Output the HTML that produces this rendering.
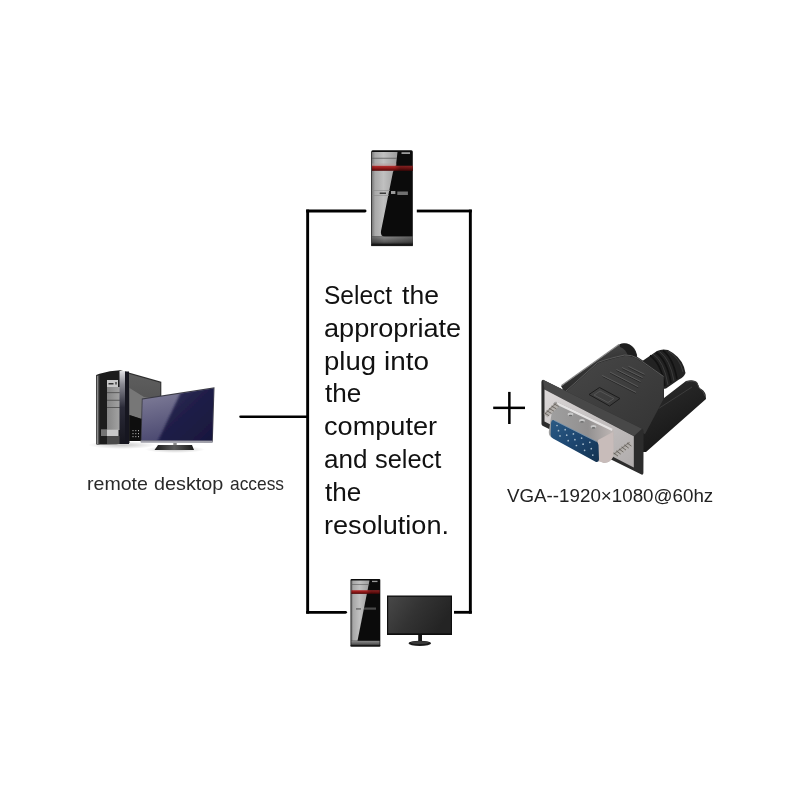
<!DOCTYPE html>
<html><head><meta charset="utf-8">
<style>
html,body{margin:0;padding:0;background:#fff;}
body{width:800px;height:800px;position:relative;overflow:hidden;font-family:"Liberation Sans",sans-serif;}
.ln{position:absolute;background:#000;}
.t{position:absolute;white-space:nowrap;line-height:1;color:#111;}
#main .t{font-size:25px;transform-origin:0 0;}
.cap{font-size:19px;color:#2a2a2a;transform-origin:0 0;}
svg{position:absolute;left:0;top:0;}
</style></head><body>
<!-- box lines -->
<svg width="800" height="800" viewBox="0 0 800 800" style="position:absolute;left:0;top:0">
<g fill="#000">
<rect x="306.2" y="209.6" width="2.9" height="404"/>
<rect x="468.9" y="209.6" width="2.9" height="404"/>
<path d="M306.2,209.6 H365 Q366.5,209.6 366.5,211 Q366.5,212.4 365,212.4 H306.2 Z"/>
<rect x="416.8" y="209.6" width="55" height="2.8"/>
<path d="M306.2,610.9 H345.5 Q347,610.9 347,612.3 Q347,613.7 345.5,613.7 H306.2 Z"/>
<rect x="454" y="610.9" width="17.8" height="2.8"/>
<path d="M240.5,415.6 H309 V417.9 H240.5 Q239.2,417.9 239.2,416.75 Q239.2,415.6 240.5,415.6 Z"/>
<rect x="493.2" y="406.6" width="31.8" height="2.5"/>
<rect x="508.1" y="391.9" width="2.5" height="32.1"/>
</g>
</svg>
<div id="main">
<div class="t" style="left:323.92px;top:283px;transform:scaleX(0.9797);">Select</div>
<div class="t" style="left:401.50px;top:283px;transform:scaleX(1.0618);">the</div>
<div class="t" style="left:323.52px;top:316px;transform:scaleX(1.0848);">appropriate</div>
<div class="t" style="left:323.90px;top:348.5px;transform:scaleX(1.1000);">plug</div>
<div class="t" style="left:384.38px;top:348.5px;transform:scaleX(1.1154);">into</div>
<div class="t" style="left:324.50px;top:381px;transform:scaleX(1.0441);">the</div>
<div class="t" style="left:323.51px;top:414px;transform:scaleX(1.0854);">computer</div>
<div class="t" style="left:323.56px;top:446.5px;transform:scaleX(1.0423);">and</div>
<div class="t" style="left:375.23px;top:446.5px;transform:scaleX(1.0164);">select</div>
<div class="t" style="left:323.52px;top:512.5px;transform:scaleX(1.0839);">resolution.</div>
<div class="t" style="left:324.50px;top:480px;transform:scaleX(1.0441);">the</div>
</div>
<div class="t cap" style="left:87.47px;top:473.5px;transform:scaleX(1.0302);">remote</div>
<div class="t cap" style="left:154.46px;top:473.5px;transform:scaleX(1.0423);">desktop</div>
<div class="t cap" style="left:229.59px;top:473.5px;transform:scaleX(0.9138);">access</div>
<div class="t" style="left:506.5px;top:487.3px;font-size:18px;color:#222;transform:scaleX(1.042);transform-origin:0 0;">VGA--1920×1080@60hz</div>


<!-- top tower -->
<svg width="800" height="800" viewBox="0 0 800 800" style="position:absolute;left:0;top:0">
<defs>
<linearGradient id="tg" x1="0" y1="0" x2="1" y2="0">
<stop offset="0" stop-color="#7a7a7a"/><stop offset="0.12" stop-color="#a8a8a8"/><stop offset="0.45" stop-color="#c0c0c0"/><stop offset="1" stop-color="#9c9c9c"/>
</linearGradient>
<linearGradient id="tr" x1="0" y1="0" x2="0" y2="1">
<stop offset="0" stop-color="#b43030"/><stop offset="0.5" stop-color="#901818"/><stop offset="1" stop-color="#500808"/>
</linearGradient>
<linearGradient id="trdark" x1="0" y1="0" x2="1" y2="0"><stop offset="0" stop-color="#000" stop-opacity="0.15"/><stop offset="0.08" stop-color="#000" stop-opacity="0"/><stop offset="0.55" stop-color="#000" stop-opacity="0"/><stop offset="0.7" stop-color="#000" stop-opacity="0.3"/><stop offset="1" stop-color="#000" stop-opacity="0.25"/></linearGradient>
<linearGradient id="tb" x1="0" y1="0" x2="0" y2="1">
<stop offset="0" stop-color="#8a8a8a"/><stop offset="0.7" stop-color="#5a5a5a"/><stop offset="1" stop-color="#1a1a1a"/>
</linearGradient>
<linearGradient id="tbx" x1="0" y1="0" x2="1" y2="0">
<stop offset="0" stop-color="#000" stop-opacity="0.25"/><stop offset="0.3" stop-color="#000" stop-opacity="0"/><stop offset="1" stop-color="#000" stop-opacity="0.3"/>
</linearGradient>
</defs>
<g id="tower1">
<rect x="371.2" y="150.2" width="41.6" height="95.8" rx="1.5" fill="#0b0b0b"/>
<path d="M372,152 L397.5,152 L396,165 L393,172 L381,231 Q380,236.5 385,236.5 L372,236.5 Z" fill="url(#tg)"/>
<rect x="372" y="157.8" width="25" height="0.8" fill="#5a5a5a"/>
<rect x="372" y="163.5" width="24.5" height="2.3" fill="#b89a9a" opacity="0.5"/>
<rect x="372" y="165.8" width="40.8" height="5" fill="url(#tr)"/>
<rect x="372" y="165.8" width="40.8" height="5" fill="url(#trdark)"/>
<rect x="372" y="236.5" width="40.8" height="8" fill="url(#tb)"/>
<rect x="372" y="236.5" width="40.8" height="8" fill="url(#tbx)"/>
<rect x="371.2" y="244.3" width="41.6" height="1.8" fill="#1a1a1a"/>
<rect x="401.5" y="152.2" width="8.5" height="1.8" fill="#9a9a9a"/>
<rect x="379.7" y="192.5" width="6.3" height="1.5" fill="#3a3a3a"/>
<rect x="391" y="191" width="4.4" height="3" fill="#9a9a9a"/>
<rect x="397.3" y="191.5" width="10.6" height="3.5" fill="#707070"/>
<rect x="372" y="190.4" width="18" height="0.6" fill="#8a8a8a"/>
<rect x="372" y="195.4" width="17" height="0.6" fill="#8a8a8a"/>
</g>
</svg>

<!-- remote desktop -->
<svg width="800" height="800" viewBox="0 0 800 800" style="position:absolute;left:0;top:0">
<defs>
<linearGradient id="rgbay" x1="0" y1="0" x2="1" y2="0">
<stop offset="0" stop-color="#858585"/><stop offset="1" stop-color="#a8a8a8"/>
</linearGradient>
<linearGradient id="rgedge" x1="0" y1="0" x2="0" y2="1">
<stop offset="0" stop-color="#e0e0e4"/><stop offset="0.18" stop-color="#8a8a94"/><stop offset="0.5" stop-color="#2a2a38"/><stop offset="1" stop-color="#16161e"/>
</linearGradient>
<linearGradient id="rgside" x1="0" y1="0" x2="0" y2="1">
<stop offset="0" stop-color="#5e5e5e"/><stop offset="1" stop-color="#4e4e4e"/>
</linearGradient>
<linearGradient id="rgscr" x1="0" y1="0" x2="0.3" y2="1">
<stop offset="0" stop-color="#84829c"/><stop offset="1" stop-color="#4a4870"/>
</linearGradient>
<linearGradient id="rgscr2" x1="0" y1="0" x2="1" y2="1">
<stop offset="0" stop-color="#3a3962"/><stop offset="0.45" stop-color="#201f48"/><stop offset="1" stop-color="#17163c"/>
</linearGradient>
<linearGradient id="rgbase" x1="0" y1="0" x2="1" y2="0">
<stop offset="0" stop-color="#1a1a1a"/><stop offset="0.5" stop-color="#5a5a5a"/><stop offset="1" stop-color="#1a1a1a"/>
</linearGradient>
<filter id="blur08" x="-10%" y="-10%" width="120%" height="120%"><feGaussianBlur stdDeviation="0.8"/></filter>
<radialGradient id="rgshadow" cx="0.5" cy="0.5" r="0.5">
<stop offset="0" stop-color="#000" stop-opacity="0.22"/><stop offset="1" stop-color="#000" stop-opacity="0"/>
</radialGradient>
</defs>
<ellipse cx="122" cy="445" rx="34" ry="4" fill="url(#rgshadow)"/>
<ellipse cx="175" cy="449.5" rx="30" ry="3.5" fill="url(#rgshadow)"/>
<!-- tower side panel -->
<polygon points="127.8,372.3 161.3,381.8 161.3,430 141,441 129,441" fill="#2e2e2e"/>
<polygon points="128.8,373.8 160.3,382.8 160.3,420 141,418.8 129.3,415" fill="url(#rgside)"/>
<polygon points="129.5,388 144,397 161,399 161,420 141,418.8 129.5,415" fill="#777"/>
<polygon points="129.5,415 141,418.8 161,420 161,430 141,441 129.5,441" fill="#0e0e0e"/>
<g fill="#aaa"><rect x="132.5" y="430" width="1" height="1.2"/><rect x="135.3" y="430" width="1" height="1.2"/><rect x="138" y="430" width="1" height="1.2"/><rect x="132.5" y="433" width="1" height="1.2"/><rect x="135.3" y="433" width="1" height="1.2"/><rect x="138" y="433" width="1" height="1.2"/><rect x="132.5" y="436" width="1" height="1.2"/><rect x="135.3" y="436" width="1" height="1.2"/><rect x="138" y="436" width="1" height="1.2"/></g>
<!-- tower front -->
<path d="M96.2,375 L99.5,373.8 Q110,370.5 120,370.2 L128,372.3 L129.5,443 Q112,445 96.5,444.4 Z" fill="#1c1c1c"/>
<rect x="96.3" y="375" width="3.2" height="69.3" fill="#3a3a3a"/>
<rect x="97" y="376" width="1.3" height="68" fill="#8a8a8a"/>
<rect x="107" y="387" width="15" height="43" fill="url(#rgbay)"/>
<rect x="107" y="392.3" width="15" height="0.8" fill="#4a4a4a"/>
<rect x="107" y="399.8" width="15" height="0.8" fill="#4a4a4a"/>
<rect x="107" y="407" width="15" height="0.8" fill="#4a4a4a"/>
<rect x="107" y="380" width="11" height="7" fill="#c8c8c8"/>
<rect x="108.5" y="383" width="5" height="1.5" fill="#333"/>
<rect x="115" y="382" width="2" height="2.5" fill="#666"/>
<rect x="101" y="429.7" width="17.5" height="6.3" fill="#c8c8c8"/>
<rect x="101" y="429.7" width="6" height="6.3" fill="#747474"/>
<rect x="107" y="436" width="15" height="8" fill="#4a4a4a"/>
<rect x="119.5" y="371" width="5.5" height="73" fill="url(#rgedge)"/>
<rect x="125" y="371.5" width="4" height="72.5" fill="#161620"/>
<!-- monitor -->
<polygon points="141.8,398.5 214.5,387.2 212.8,442 140.7,441.6" fill="#3a3a44"/>
<polygon points="142.6,399.6 213.6,388.6 212,440.6 141.6,440.4" fill="url(#rgscr)"/>
<clipPath id="scrclip"><polygon points="142.6,399.6 213.6,388.6 212,440.6 141.6,440.4"/></clipPath><g clip-path="url(#scrclip)"><polygon points="181,392 216,386 216,442 157.5,442" fill="url(#rgscr2)" filter="url(#blur08)"/></g>
<polygon points="140.7,440.5 212.8,440.8 212.6,443 140.8,442.8" fill="#a0a0aa"/>
<rect x="173.3" y="443" width="3.4" height="4" fill="#8a8a8a"/>
<polygon points="158,445 192,445 194,450 154.5,450" fill="url(#rgbase)"/>
</svg>

<!-- VGA adapter -->
<svg width="800" height="800" viewBox="0 0 800 800" style="position:absolute;left:0;top:0">
<defs>
<linearGradient id="vsil" x1="0" y1="0" x2="1" y2="1">
<stop offset="0" stop-color="#dcd8d8"/><stop offset="0.5" stop-color="#c4c0c0"/><stop offset="1" stop-color="#b0acac"/>
</linearGradient>
<linearGradient id="vshell" x1="0" y1="0" x2="1" y2="0">
<stop offset="0" stop-color="#a0a0a0"/><stop offset="0.6" stop-color="#929090"/><stop offset="1" stop-color="#c0b8b6"/>
</linearGradient>
<linearGradient id="vblue" x1="0" y1="0" x2="1" y2="1">
<stop offset="0" stop-color="#2b5a84"/><stop offset="0.5" stop-color="#1d4670"/><stop offset="1" stop-color="#14324f"/>
</linearGradient>
<linearGradient id="vcyl" x1="0" y1="0" x2="0.5" y2="1">
<stop offset="0" stop-color="#2e2e2e"/><stop offset="0.5" stop-color="#222"/><stop offset="1" stop-color="#151515"/>
</linearGradient>
<linearGradient id="vface" x1="0" y1="0" x2="1" y2="1">
<stop offset="0" stop-color="#474747"/><stop offset="1" stop-color="#343434"/>
</linearGradient>
</defs>
<!-- lower right cylinder -->
<path d="M640,431 L664,398 L686,381 Q693,379 697,382 L699.5,388 Q704,390 705.5,394 L706,399 L646,452 L640,452 Z" fill="url(#vcyl)"/>
<path d="M636,423 L692,387" stroke="#3c3c3c" stroke-width="1" fill="none"/>
<path d="M686,382 Q694,380 697,383 L699,388 Q704,391 705,396" stroke="#444" stroke-width="1" fill="none"/>
<!-- ribbed boot -->
<path d="M638,364 L657,351 Q662,348.5 668,350 Q680,356 684,367 L685.5,373 Q684,377 679,379.5 L666,388.5 L645,392 Z" fill="#222"/>
<g stroke="#121212" stroke-width="1.6" fill="none">
<path d="M650,355.5 Q661,363 665,386"/>
<path d="M656,352.5 Q667,360 671,383"/>
<path d="M663,350.5 Q673,358 677,379"/>
</g>
<g stroke="#3c3c3c" stroke-width="1" fill="none">
<path d="M653,354 Q664,361 668,385"/>
<path d="M659.5,351.5 Q670,359 674,381"/>
<path d="M668,351 Q680,358 683,372"/>
</g>
<!-- upper-left cylinder -->
<linearGradient id="vband" x1="0" y1="0" x2="0.3" y2="1"><stop offset="0" stop-color="#505050"/><stop offset="0.5" stop-color="#343434"/><stop offset="1" stop-color="#2a2a2a"/></linearGradient>
<path d="M561,386 L619,344.5 Q628,341 634,348 Q639,355 636,361 L600,368 L566,395 Z" fill="url(#vband)"/>
<path d="M620,344 Q629,342 634,349 Q638,355 636,360 L628,356 Q626,349 620,347 Z" fill="#1e1e1e"/>
<path d="M561.5,385.5 L619,344.5" stroke="#8a8a8a" stroke-width="1.1" fill="none"/>
<!-- hood -->
<path d="M636,356 L645,362 L664,376 L664,399 L645,434 L570,398 L597.7,363 Q607.9,359.2 624.7,355.8 Z" fill="#262626"/>
<path d="M566,392 L597.7,363.5 Q607.9,359.5 624.7,356 Q632,355.5 638,359.5 L663.5,377 L663.5,399 L645,434 L572,400 Z" fill="url(#vface)"/>
<path d="M566,391 L597.7,362.5 Q607.9,358.5 624.7,355 Q632,354.5 638,358.5 L663.5,376.5" stroke="#5a5a5a" stroke-width="1" fill="none"/>
<g stroke="#262626" stroke-width="0.9" fill="none">
<path d="M602.5,376.5 L636,393.4"/>
<path d="M610,373 L638.2,387.7"/>
<path d="M616.5,370.5 L640.5,382.5"/>
<path d="M622,368.5 L642.5,378.5"/>
<path d="M628.5,367.3 L644.5,375.3"/>
</g>
<g stroke="#5e5e5e" stroke-width="0.9" fill="none">
<path d="M602.2,375.5 L636,392.4"/>
<path d="M610,372 L638.2,386.7"/>
<path d="M616.5,369.5 L640.5,381.5"/>
<path d="M622,367.5 L642.5,377.5"/>
<path d="M628.5,366.3 L644.5,374.3"/>
</g>
<g stroke-width="1" fill="none">
<path d="M589,394.5 L599.5,387.5 L620,398.5 L609.5,406 Z" stroke="#1c1c1c"/>
<path d="M594,395 L600,391 L614,398.5 L608,402.5 Z" stroke="#555"/>
</g>
<!-- plate -->
<path d="M543,379.8 Q541.4,380 541.4,382 L541.5,424 Q541.6,425.6 543,426 L641.5,474.6 Q643.4,475 643.4,473 L643.6,431 Q643.6,429.5 642,428.8 Z" fill="#2c2c2c"/>
<path d="M543,379.8 L642,428.8 L634,436 L544.5,389.5 Z" fill="#484848"/>
<path d="M544.5,389.5 L633.8,436.2 L633.8,467.5 L544.5,421.5 Z" fill="url(#vsil)"/>
<!-- D-sub shell -->
<path d="M557,402 L612,428.5 Q614,430 614,434 L613.5,455 Q612,462 604,463 L551,437 Q548,435 549,430 L553,405 Q554,401 557,402 Z" fill="url(#vshell)"/>
<path d="M557,402 L612.5,428.8 L612,431 L556,404.2 Z" fill="#e6e4e4"/>
<path d="M598,440 L613,432 L613.5,455 Q612,462 604,463 L598,461 Z" fill="#c8bcba"/>
<g fill="#c8c8c8">
<ellipse cx="570.5" cy="414.5" rx="2.8" ry="1.9"/><ellipse cx="582" cy="420.8" rx="2.8" ry="1.9"/><ellipse cx="593.5" cy="426.8" rx="2.8" ry="1.9"/>
</g>
<g fill="#6e6e6e">
<ellipse cx="570.5" cy="415.6" rx="2" ry="0.9"/><ellipse cx="582" cy="421.9" rx="2" ry="0.9"/><ellipse cx="593.5" cy="427.9" rx="2" ry="0.9"/>
</g>
<!-- blue -->
<path d="M554,420.3 L596,441.3 Q598.3,442.5 598.5,445 L599,459.5 Q598.8,462.5 596,462 L553,438.5 Q550.6,437.2 550.6,434.5 L551,423 Q551.5,419.2 554,420.3 Z" fill="url(#vblue)"/>
<path d="M554,420.3 L596,441.3" stroke="#7e98b0" stroke-width="0.8" fill="none"/>
<g fill="#a8bccc">
<circle cx="557.0" cy="425.5" r="0.85"/><circle cx="565.2" cy="429.7" r="0.85"/><circle cx="573.4" cy="433.9" r="0.85"/><circle cx="581.6" cy="438.1" r="0.85"/><circle cx="589.8" cy="442.3" r="0.85"/><circle cx="558.5" cy="430.7" r="0.85"/><circle cx="566.7" cy="435.2" r="0.85"/><circle cx="574.9" cy="439.7" r="0.85"/><circle cx="583.1" cy="444.2" r="0.85"/><circle cx="591.3" cy="448.7" r="0.85"/><circle cx="560.0" cy="435.9" r="0.85"/><circle cx="568.2" cy="440.7" r="0.85"/><circle cx="576.4" cy="445.5" r="0.85"/><circle cx="584.6" cy="450.3" r="0.85"/><circle cx="592.8" cy="455.1" r="0.85"/>
</g>
<!-- thumbscrews -->
<path d="M547.3,417.4 L559.3,405.9 L555.7,402.1 L543.7,413.6 Z" fill="#b4b0ac"/><path d="M544.4,414.4 L556.4,402.9" stroke="#8a8580" stroke-width="1.2"/><path d="M549.1,415.7 L544.3,413.0" stroke="#5a5550" stroke-width="0.8"/><path d="M551.5,413.4 L546.7,410.7" stroke="#5a5550" stroke-width="0.8"/><path d="M553.9,411.1 L549.1,408.4" stroke="#5a5550" stroke-width="0.8"/><path d="M556.3,408.8 L551.5,406.1" stroke="#5a5550" stroke-width="0.8"/><path d="M558.7,406.5 L553.9,403.8" stroke="#5a5550" stroke-width="0.8"/>
<path d="M616.1,457.6 L632.1,445.6 L628.9,441.4 L612.9,453.4 Z" fill="#b4b0ac"/><path d="M613.6,454.3 L629.6,442.3" stroke="#8a8580" stroke-width="1.2"/><path d="M618.0,456.1 L613.6,452.9" stroke="#5a5550" stroke-width="0.8"/><path d="M620.7,454.1 L616.3,450.9" stroke="#5a5550" stroke-width="0.8"/><path d="M623.4,452.1 L619.0,448.9" stroke="#5a5550" stroke-width="0.8"/><path d="M626.0,450.1 L621.6,446.9" stroke="#5a5550" stroke-width="0.8"/><path d="M628.7,448.1 L624.3,444.9" stroke="#5a5550" stroke-width="0.8"/><path d="M631.4,446.1 L627.0,442.9" stroke="#5a5550" stroke-width="0.8"/>
</svg>

<!-- bottom tower + monitor -->
<svg width="800" height="800" viewBox="0 0 800 800" style="position:absolute;left:0;top:0">
<defs>
<linearGradient id="bscr" x1="0" y1="0" x2="1" y2="0.4">
<stop offset="0" stop-color="#484848"/><stop offset="0.5" stop-color="#333"/><stop offset="1" stop-color="#242424"/>
</linearGradient>
</defs>
<g>
<rect x="350.5" y="579" width="29.8" height="67.5" rx="1" fill="#0b0b0b"/>
<polygon points="351.3,580.5 369.5,580.5 357.5,640.8 351.3,640.8" fill="url(#tg)"/>
<rect x="351.3" y="584.3" width="18" height="0.6" fill="#5a5a5a"/>
<rect x="351.3" y="590.2" width="28.3" height="3.7" fill="url(#tr)"/>
<rect x="351.3" y="590.2" width="28.3" height="3.7" fill="url(#trdark)"/>
<rect x="351.3" y="640.8" width="28.3" height="4.7" fill="url(#tb)"/>
<rect x="350.5" y="645.2" width="29.8" height="1.3" fill="#1a1a1a"/>
<rect x="372" y="580.8" width="5.5" height="1.3" fill="#9a9a9a"/>
<rect x="356" y="608.5" width="5" height="0.9" fill="#3a3a3a"/>
<rect x="364" y="607.5" width="12" height="2.2" fill="#4a4a4a"/>
</g>
<g>
<rect x="387" y="595.5" width="65" height="39.5" fill="#0e0e0e"/>
<rect x="388.2" y="596.8" width="62.6" height="36.5" fill="url(#bscr)"/>
<rect x="418.2" y="635" width="3.8" height="7.5" fill="#151515"/>
<ellipse cx="419.8" cy="643.3" rx="11.3" ry="2.6" fill="#1a1a1a"/>
<ellipse cx="419.8" cy="642.6" rx="9" ry="1.5" fill="#3a3a3a"/>
</g>
</svg>
</body></html>
